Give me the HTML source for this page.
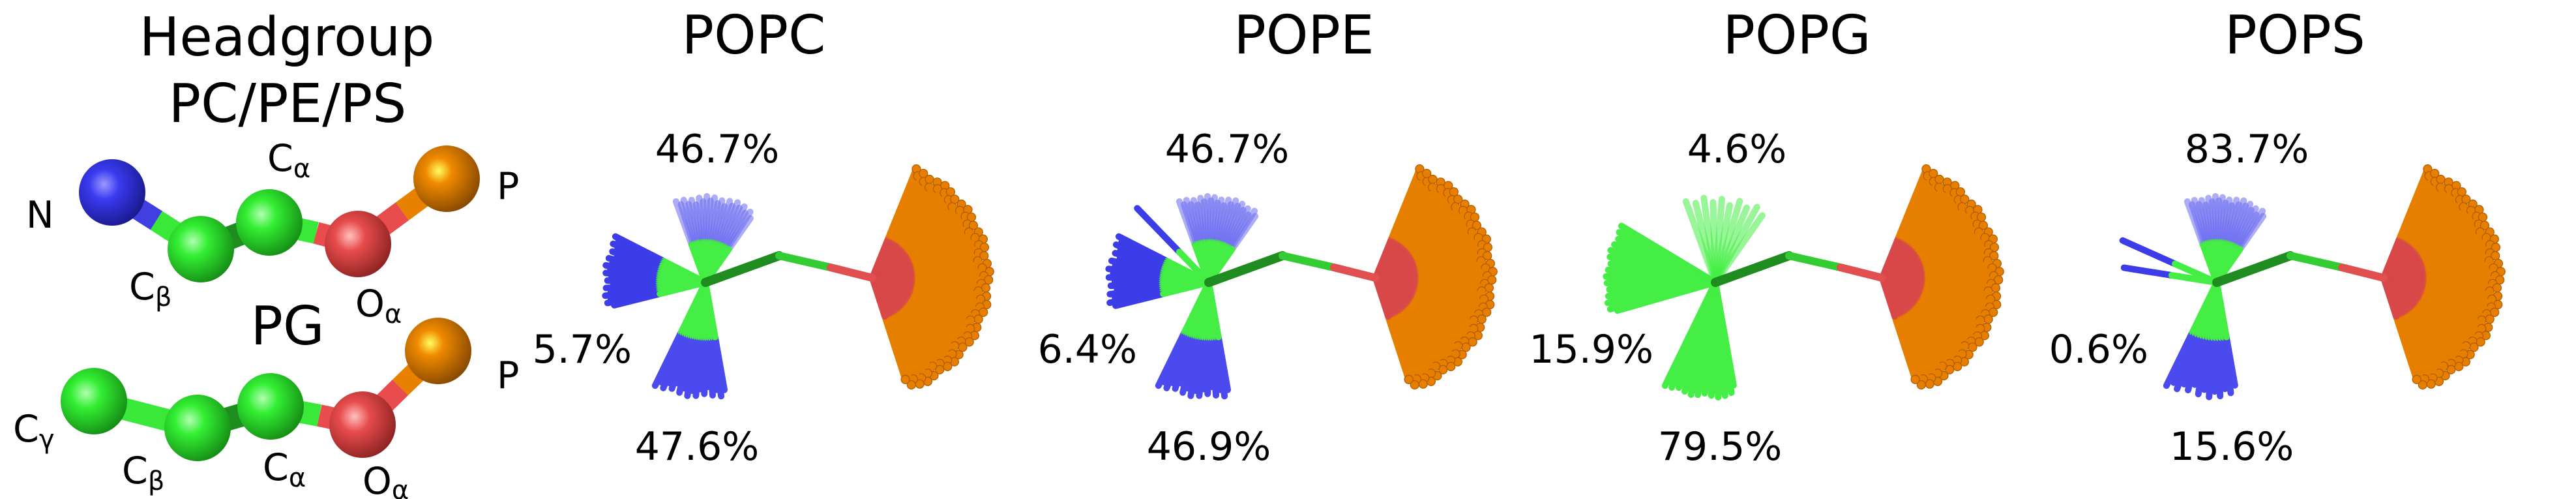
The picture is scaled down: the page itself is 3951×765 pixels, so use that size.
<!DOCTYPE html>
<html><head><meta charset="utf-8">
<style>
html,body{margin:0;padding:0;background:#fff;}
svg{display:block;}
text{font-family:"DejaVu Sans","Liberation Sans",sans-serif;fill:#000;}
</style></head>
<body>
<svg id="fig" width="3951" height="765" viewBox="0 0 3951 765" xmlns="http://www.w3.org/2000/svg">
<defs>
<radialGradient id="gBlue" cx="0.38" cy="0.38" r="0.65"><stop offset="0" stop-color="#9a9aff"/><stop offset="0.35" stop-color="#3a3af0"/><stop offset="1" stop-color="#1a1a90"/></radialGradient>
<radialGradient id="gGreen" cx="0.38" cy="0.38" r="0.65"><stop offset="0" stop-color="#b0ffb0"/><stop offset="0.35" stop-color="#33ee33"/><stop offset="1" stop-color="#169016"/></radialGradient>
<radialGradient id="gRed" cx="0.38" cy="0.38" r="0.65"><stop offset="0" stop-color="#ffc0c0"/><stop offset="0.35" stop-color="#e84c4c"/><stop offset="1" stop-color="#902424"/></radialGradient>
<radialGradient id="gOrange" cx="0.38" cy="0.38" r="0.65"><stop offset="0" stop-color="#ffff60"/><stop offset="0.3" stop-color="#f08a00"/><stop offset="1" stop-color="#8a4a00"/></radialGradient>
</defs>

<g>
<text x="440" y="85" font-size="82" text-anchor="middle">Headgroup</text>
<text x="441" y="187" font-size="82" text-anchor="middle">PC/PE/PS</text>
<text x="441" y="528" font-size="82" text-anchor="middle">PG</text>

<g>
<line x1="172" y1="295" x2="240" y2="338" stroke="#4040e0" stroke-width="34"/>
<line x1="240" y1="338" x2="308" y2="382" stroke="#3ae83a" stroke-width="34"/>
<line x1="308" y1="382" x2="413" y2="341" stroke="#1e8c1e" stroke-width="36" stroke-linecap="round"/>
<line x1="413" y1="341" x2="485" y2="357" stroke="#3ae83a" stroke-width="34"/>
<line x1="485" y1="357" x2="549" y2="374" stroke="#e84c4c" stroke-width="34"/>
<line x1="549" y1="374" x2="617" y2="324" stroke="#e84c4c" stroke-width="34"/>
<line x1="617" y1="324" x2="685" y2="274" stroke="#e88000" stroke-width="34"/>
<circle cx="172" cy="295" r="51" fill="url(#gBlue)"/>
<circle cx="308" cy="382" r="51" fill="url(#gGreen)"/>
<circle cx="413" cy="341" r="51" fill="url(#gGreen)"/>
<circle cx="549" cy="374" r="51" fill="url(#gRed)"/>
<circle cx="685" cy="274" r="51" fill="url(#gOrange)"/>
</g>
<g font-size="57">
<text x="40" y="349">N</text>
<text x="410" y="262">C<tspan font-size="40" dy="10">α</tspan></text>
<text x="198" y="459">C<tspan font-size="40" dy="10">β</tspan></text>
<text x="545" y="485">O<tspan font-size="40" dy="10">α</tspan></text>
<text x="762" y="305">P</text>
</g>

<g>
<line x1="144" y1="615" x2="303" y2="656" stroke="#3ae83a" stroke-width="34"/>
<line x1="303" y1="656" x2="415" y2="623" stroke="#1e8c1e" stroke-width="36" stroke-linecap="round"/>
<line x1="415" y1="623" x2="490" y2="637" stroke="#3ae83a" stroke-width="34"/>
<line x1="490" y1="637" x2="556" y2="651" stroke="#e84c4c" stroke-width="34"/>
<line x1="556" y1="651" x2="614" y2="594" stroke="#e84c4c" stroke-width="34"/>
<line x1="614" y1="594" x2="672" y2="538" stroke="#e88000" stroke-width="34"/>
<circle cx="144" cy="615" r="51" fill="url(#gGreen)"/>
<circle cx="303" cy="656" r="51" fill="url(#gGreen)"/>
<circle cx="415" cy="623" r="51" fill="url(#gGreen)"/>
<circle cx="556" cy="651" r="51" fill="url(#gRed)"/>
<circle cx="672" cy="538" r="51" fill="url(#gOrange)"/>
</g>
<g font-size="57">
<text x="20" y="677">C<tspan font-size="40" dy="10">γ</tspan></text>
<text x="187" y="741">C<tspan font-size="40" dy="10">β</tspan></text>
<text x="403" y="736">C<tspan font-size="40" dy="10">α</tspan></text>
<text x="556" y="757">O<tspan font-size="40" dy="8">α</tspan></text>
<text x="762" y="595">P</text>
</g>
</g>
<g id="panels"></g>
</svg>
<script>
// Data
const lipids = ["POPC", "POPE", "POPG", "POPS"];
const upperPct = ["46.7%", "46.7%", "4.6%", "83.7%"];
const leftPct = ["5.7%", "6.4%", "15.9%", "0.6%"];
const lowerPct = ["47.6%", "46.9%", "79.5%", "15.6%"];
const leftStickCount = [20, 18, 28, 2];
const upperStickCount = [22, 24, 10, 24];
const lowerStickCount = [18, 18, 22, 14];

// Layout (positions, not data)
const junctionX = [1082, 1854, 2631, 3400];
const titleX = [1156, 2000, 2756, 3520];
const upperX = [1100, 1882, 2664, 3446];
const lowerX = [1069, 1854, 2638, 3423];
const leftRight = [969, 1744, 2536, 3295];
const JY = 433;
const NS = "http://www.w3.org/2000/svg";
const root = document.getElementById("panels");
const varLen = [1, 0.95, 0.99, 0.93, 0.97, 0.91, 0.985, 0.94];

function mk(tag, attrs, parent) {
  const e = document.createElementNS(NS, tag);
  for (const k in attrs) e.setAttribute(k, attrs[k]);
  parent.appendChild(e);
  return e;
}
function stick(g, x, y, ang, len, inner, innerColor, outerColor, op, ball) {
  const a = ang * Math.PI / 180, c = Math.cos(a), s = Math.sin(a);
  const x2 = x + c * len, y2 = y + s * len;
  const w = 10;
  if (inner < len) {
    mk("line", {x1: x + c * inner, y1: y + s * inner, x2: x2, y2: y2, stroke: outerColor, "stroke-width": w, "stroke-linecap": "round", "stroke-opacity": op}, g);
  }
  if (inner > 0) {
    const il = Math.min(inner, len);
    mk("line", {x1: x, y1: y, x2: x + c * il, y2: y + s * il, stroke: innerColor, "stroke-width": w, "stroke-linecap": "round", "stroke-opacity": inner >= len ? op : 1}, g);
  }
  if (ball) mk("circle", {cx: x2, cy: y2, r: 6.5, fill: outerColor, stroke: "#b05a00", "stroke-width": 1.2}, g);
}
function fan(g, x, y, n, a0, a1, len, inner, ic, oc, op, ball) {
  for (let i = 0; i < n; i++) {
    const ang = n > 1 ? a0 + (a1 - a0) * i / (n - 1) : a0;
    stick(g, x, y, ang, len * varLen[i % varLen.length], inner, ic, oc, op, ball);
  }
}

lipids.forEach((name, p) => {
  const g = mk("g", {}, root);
  
  
  const jx = junctionX[p];
  const isPG = name === "POPG";
  const outer = isPG ? "#44e844" : "#3c3ce8";
  const green = "#44ee44";
  const vx = jx + 113, vy = JY - 41, rx = jx + 192, ry = JY - 23, px = jx + 256, py = JY - 7;

  const og = mk("g", {}, g);
  
  
  fan(og, px, py, 70, -68, 72, 180, 62, "#d84848", "#e67e00", 1, true);

  const ug = mk("g", {}, g);
  
  
  fan(ug, jx, JY, upperStickCount[p], -110, -55, 132, isPG ? 132 : 62, green, "#6a6af0", 0.55, false);

  const lg = mk("g", {}, g);
  
  
  if (name === "POPS") {
    stick(lg, jx, JY, 204, 158, 70, green, outer, 1, false);
    stick(lg, jx, JY, 189, 144, 70, green, outer, 1, false);
  } else if (isPG) {
    fan(lg, jx, JY, leftStickCount[p], 211, 164, 168, 168, green, outer, 1, false);
  } else {
    fan(lg, jx, JY, leftStickCount[p], 207, 166, 155, 72, green, outer, 1, false);
    if (name === "POPE") stick(lg, jx, JY, 226, 158, 65, green, outer, 1, false);
  }

  const dg = mk("g", {}, g);
  
  
  fan(dg, jx, JY, lowerStickCount[p], 116, 80, 176, isPG ? 176 : 85, green, isPG ? green : "#4a4aee", 1, false);

  const sg = mk("g", {}, g);
  
  
  mk("line", {x1: jx, y1: JY, x2: vx, y2: vy, stroke: "#1e8c1e", "stroke-width": 14, "stroke-linecap": "round"}, sg);
  mk("line", {x1: vx, y1: vy, x2: rx, y2: ry, stroke: "#33cc33", "stroke-width": 12, "stroke-linecap": "round"}, sg);
  mk("line", {x1: rx, y1: ry, x2: px, y2: py, stroke: "#e05050", "stroke-width": 12, "stroke-linecap": "round"}, sg);

  const t = mk("text", {x: titleX[p], y: 82, "font-size": 82, "text-anchor": "middle"}, g);
  
  
  t.textContent = name;
  const u = mk("text", {x: upperX[p], y: 249, "font-size": 60, "text-anchor": "middle"}, g);
  
  
  u.textContent = upperPct[p];
  const l = mk("text", {x: leftRight[p], y: 556, "font-size": 60, "text-anchor": "end"}, g);
  
  
  l.textContent = leftPct[p];
  const d = mk("text", {x: lowerX[p], y: 705, "font-size": 60, "text-anchor": "middle"}, g);
  
  
  d.textContent = lowerPct[p];
});
</script>
</body></html>
